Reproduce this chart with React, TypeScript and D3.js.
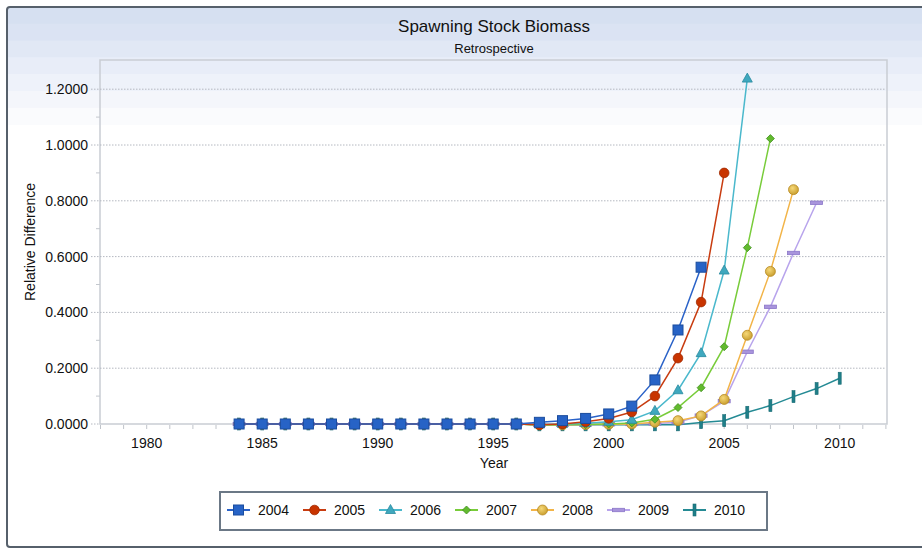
import React from "react";
import * as d3 from "d3";

const START_YEAR = 1984;
const ZEROS13 = [0, 0, 0, 0, 0, 0, 0, 0, 0, 0, 0, 0, 0];

const seriesNames = ["2004", "2005", "2006", "2007", "2008", "2009", "2010"];

const values2004 = [...ZEROS13, 0.006, 0.012, 0.02, 0.036, 0.064, 0.158, 0.337, 0.562];
const values2005 = [...ZEROS13, -0.003, 0.0, 0.008, 0.02, 0.043, 0.1, 0.236, 0.437, 0.9];
const values2006 = [...ZEROS13, -0.002, 0.0, 0.003, 0.008, 0.015, 0.047, 0.121, 0.254, 0.55, 1.238];
const values2007 = [...ZEROS13, -0.004, -0.003, -0.002, 0.0, 0.004, 0.017, 0.059, 0.13, 0.277, 0.632, 1.023];
const values2008 = [...ZEROS13, -0.003, -0.003, -0.002, -0.001, 0.0, 0.006, 0.012, 0.029, 0.088, 0.318, 0.547, 0.84];
const values2009 = [...ZEROS13, -0.003, -0.003, -0.002, -0.001, 0.0, 0.002, 0.006, 0.03, 0.082, 0.259, 0.42, 0.613, 0.793];
const values2010 = [...ZEROS13, -0.003, -0.003, -0.003, -0.003, -0.003, -0.003, -0.003, 0.005, 0.012, 0.042, 0.066, 0.098, 0.127, 0.164];

const seriesValues = [values2004, values2005, values2006, values2007, values2008, values2009, values2010];

const yTicks = [0, 0.2, 0.4, 0.6, 0.8, 1.0, 1.2];
const yMinorTicks = [0.1, 0.3, 0.5, 0.7, 0.9, 1.1];
const xTickLabels = [1980, 1985, 1990, 1995, 2000, 2005, 2010];

type Style = { line: string; fill: string; stroke: string; shape: string };
const styles: Style[] = [
  { line: "#2a62c8", fill: "#2763c6", stroke: "#1b4d9e", shape: "square" },
  { line: "#c83c10", fill: "#c83400", stroke: "#a02a00", shape: "circle" },
  { line: "#4ab8cc", fill: "#3fa8be", stroke: "#2a8aa0", shape: "triangle" },
  { line: "#78cc3a", fill: "#62ba2e", stroke: "#3f8e1e", shape: "diamond" },
  { line: "#f2b448", fill: "url(#goldGrad)", stroke: "#b88a24", shape: "goldcircle" },
  { line: "#b8a4ec", fill: "#a894dc", stroke: "#8a76c8", shape: "hbar" },
  { line: "#248a94", fill: "#1f7f89", stroke: "#186a72", shape: "vbar" },
];

const W = 922;
const H = 549;
const PL = 100;
const PR = 887;
const PT = 60;
const PB = 424;

const FONT = "'Liberation Sans', Arial, sans-serif";

function Marker({ shape, x, y, s }: { shape: string; x: number; y: number; s: Style }) {
  switch (shape) {
    case "square":
      return <rect x={x - 5} y={y - 5} width={10} height={10} fill={s.fill} stroke={s.stroke} strokeWidth={1} />;
    case "circle":
      return <circle cx={x} cy={y} r={4.8} fill={s.fill} stroke={s.stroke} strokeWidth={0.8} />;
    case "goldcircle":
      return <circle cx={x} cy={y} r={5} fill={s.fill} stroke={s.stroke} strokeWidth={0.8} />;
    case "triangle":
      return (
        <path d={`M${x},${y - 5.5}L${x + 5},${y + 3.5}L${x - 5},${y + 3.5}Z`} fill={s.fill} stroke={s.stroke} strokeWidth={0.8} />
      );
    case "diamond":
      return (
        <path d={`M${x},${y - 4}L${x + 4},${y}L${x},${y + 4}L${x - 4},${y}Z`} fill={s.fill} stroke={s.stroke} strokeWidth={0.8} />
      );
    case "hbar":
      return <rect x={x - 6} y={y - 1.7} width={12} height={3.4} fill={s.fill} stroke={s.stroke} strokeWidth={0.8} />;
    case "vbar":
      return <rect x={x - 1.5} y={y - 6} width={3} height={12} fill={s.fill} stroke={s.stroke} strokeWidth={0.6} />;
    default:
      return null;
  }
}

export default function App() {
  const x = d3.scaleLinear().domain([1978, 2012]).range([100.5, 885.9]);
  const y = d3.scaleLinear().domain([0, 1.3]).range([PB, PB - 1.3 * 279]);

  const line = d3
    .line<[number, number]>()
    .x((d) => x(d[0]))
    .y((d) => y(d[1]));

  const yearTicks = d3.range(1978, 2013);

  const bands = ["#d6e0f1", "#dbe3f3", "#e1e8f5", "#e8edf8", "#eef2fa", "#f4f6fb", "#fafbfd"];
  const bandH = 16.8;

  const order = [6, 5, 4, 3, 2, 1, 0];

  return (
    <svg width={W} height={H} style={{ position: "absolute", left: 0, top: 0, background: "#fff" }} fontFamily={FONT}>
      <defs>
        <radialGradient id="goldGrad" cx="40%" cy="35%" r="65%">
          <stop offset="0%" stopColor="#f6d878" />
          <stop offset="100%" stopColor="#caa030" />
        </radialGradient>
        <clipPath id="frameClip">
          <rect x={7} y={7} width={930} height={540} rx={3} />
        </clipPath>
      </defs>
      <g clipPath="url(#frameClip)">
        <rect x={7} y={7} width={930} height={540} fill="#ffffff" />
        {bands.map((c, i) => (
          <rect key={i} x={7} y={7 + i * bandH} width={930} height={bandH + 0.5} fill={c} />
        ))}
      </g>
      <rect x={7} y={7} width={930} height={540} rx={3} fill="none" stroke="#56606b" strokeWidth={2} />

      <text x={494} y={32} textAnchor="middle" fontSize={17} fill="#111">
        Spawning Stock Biomass
      </text>
      <text x={494} y={53} textAnchor="middle" fontSize={13} fill="#111">
        Retrospective
      </text>

      {/* plot border */}
      <rect x={PL} y={PT} width={PR - PL} height={PB - PT} fill="none" stroke="#c9cdd3" strokeWidth={1.5} />

      {/* gridlines */}
      {yTicks.slice(1).map((t) => (
        <line key={t} x1={91} x2={PR - 1} y1={y(t)} y2={y(t)} stroke="#b4b8c0" strokeWidth={1} strokeDasharray="1.5,1.5" />
      ))}
      <line x1={91} x2={PL} y1={y(0)} y2={y(0)} stroke="#b4b8c0" strokeWidth={1} strokeDasharray="1.5,1.5" />
      {yMinorTicks.map((t) => (
        <line key={t} x1={96} x2={PL} y1={y(t)} y2={y(t)} stroke="#c4c8ce" strokeWidth={1} />
      ))}
      {yTicks.map((t) => (
        <text key={t} x={88} y={y(t)} dy="0.35em" textAnchor="end" fontSize={14} fill="#111">
          {t.toFixed(4)}
        </text>
      ))}

      {/* x ticks */}
      {yearTicks.map((yr) => (
        <line key={yr} x1={x(yr)} x2={x(yr)} y1={PB + 1} y2={PB + 5} stroke="#c0c4ca" strokeWidth={1} />
      ))}
      {xTickLabels.map((yr) => (
        <text key={yr} x={x(yr)} y={448} textAnchor="middle" fontSize={14} fill="#111">
          {yr}
        </text>
      ))}

      <text x={494} y={468} textAnchor="middle" fontSize={14} fill="#111">
        Year
      </text>
      <text transform={`translate(35,${(PT + PB) / 2}) rotate(-90)`} textAnchor="middle" fontSize={14} fill="#111">
        Relative Difference
      </text>

      {/* series */}
      {order.map((si) => {
        const vals = seriesValues[si];
        const pts: [number, number][] = vals.map((v, i) => [START_YEAR + i, v]);
        const s = styles[si];
        return (
          <g key={si}>
            <path d={line(pts) || ""} fill="none" stroke={s.line} strokeWidth={1.5} />
            {pts.map((p, i) => (
              <Marker key={i} shape={s.shape} x={x(p[0])} y={y(p[1])} s={s} />
            ))}
          </g>
        );
      })}

      {/* legend */}
      <rect x={220} y={492} width={547} height={38} fill="#fff" stroke="#6b7886" strokeWidth={2} />
      {seriesNames.map((name, i) => {
        const lx = 227 + i * 76;
        const s = styles[i];
        return (
          <g key={name}>
            <line x1={lx} x2={lx + 23} y1={510} y2={510} stroke={s.line} strokeWidth={2} />
            <Marker shape={s.shape} x={lx + 11.5} y={510} s={s} />
            <text x={lx + 31} y={510} dy="0.35em" fontSize={14} fill="#111">
              {name}
            </text>
          </g>
        );
      })}
    </svg>
  );
}
